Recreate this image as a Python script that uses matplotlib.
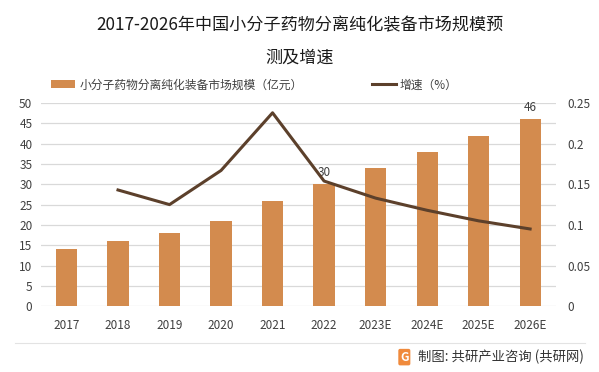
import matplotlib.pyplot as plt
from matplotlib.lines import Line2D
from matplotlib.patches import Patch

plt.rcParams['font.family'] = ['Noto Sans CJK SC', 'DejaVu Sans']

# 数据
years = ['2017', '2018', '2019', '2020', '2021', '2022', '2023E', '2024E', '2025E', '2026E']
market_size = [14, 16, 18, 21, 26, 30, 34, 38, 42, 46]
growth = [None, 0.143, 0.125, 0.167, 0.238, 0.154, 0.133, 0.118, 0.105, 0.095]
labeled = {'2022': 30, '2026E': 46}

bar_color = '#D38B4E'
line_color = '#5C402B'
text_color = '#404040'

fig = plt.figure(figsize=(5.99, 3.72), dpi=100)
ax = fig.add_axes([0.068, 0.177, 0.86, 0.546])
ax2 = ax.twinx()

x = list(range(len(years)))
ax.bar(x, market_size, width=0.41, color=bar_color, zorder=2)
gx = [i for i, g in zip(x, growth) if g is not None]
gy = [g for g in growth if g is not None]
ax2.plot(gx, gy, color=line_color, linewidth=2.2, zorder=3)

for i, yr in enumerate(years):
    if yr in labeled:
        ax.text(i, labeled[yr] + 1.2, str(labeled[yr]), ha='center', va='bottom',
                fontsize=8.5, color=text_color)

ax.set_xlim(-0.5, len(years) - 0.5)
ax.set_ylim(0, 50)
ax.set_yticks(range(0, 51, 5))
ax2.set_ylim(0, 0.25)
ax2.set_yticks([0, 0.05, 0.1, 0.15, 0.2, 0.25])
ax2.set_yticklabels(['0', '0.05', '0.1', '0.15', '0.2', '0.25'])
ax.set_xticks(x)
ax.set_xticklabels(years)

ax.grid(axis='y', color='#D9D9D9', linewidth=0.9, zorder=0)
ax.set_axisbelow(True)
for a in (ax, ax2):
    for s in a.spines.values():
        s.set_visible(False)
    a.tick_params(length=0, labelsize=8.5, colors=text_color)
ax.tick_params(axis='x', pad=9)
ax.tick_params(axis='y', pad=6)
ax2.tick_params(axis='y', pad=8)

fig.text(0.5, 0.933, '2017-2026年中国小分子药物分离纯化装备市场规模预', ha='center',
         va='center', fontsize=12.3, color='#1a1a1a')
fig.text(0.5, 0.844, '测及增速', ha='center', va='center', fontsize=12.3, color='#1a1a1a')

handles = [Patch(facecolor=bar_color), Line2D([0], [0], color=line_color, linewidth=2.2)]
fig.legend(handles, ['小分子药物分离纯化装备市场规模（亿元）', '增速（%）'], ncol=2,
           loc='center', bbox_to_anchor=(0.425, 0.772), frameon=False, fontsize=8.5,
           handlelength=2.0, handleheight=0.6, columnspacing=5.9, handletextpad=0.35,
           labelcolor=text_color)

fig.add_artist(Line2D([0.025, 0.977], [0.078, 0.078], color='#E3E3E3', linewidth=0.8))
fig.text(0.974, 0.04, '制图: 共研产业咨询 (共研网)', ha='right', va='center',
         fontsize=9.6, color='#333333')
fig.text(0.675, 0.04, 'G', ha='center', va='center', fontsize=8.5, fontweight='bold',
         color='white', bbox=dict(boxstyle='round,pad=0.15', facecolor='#F08A3C', edgecolor='none'))

fig.savefig('out.png', dpi=100)
